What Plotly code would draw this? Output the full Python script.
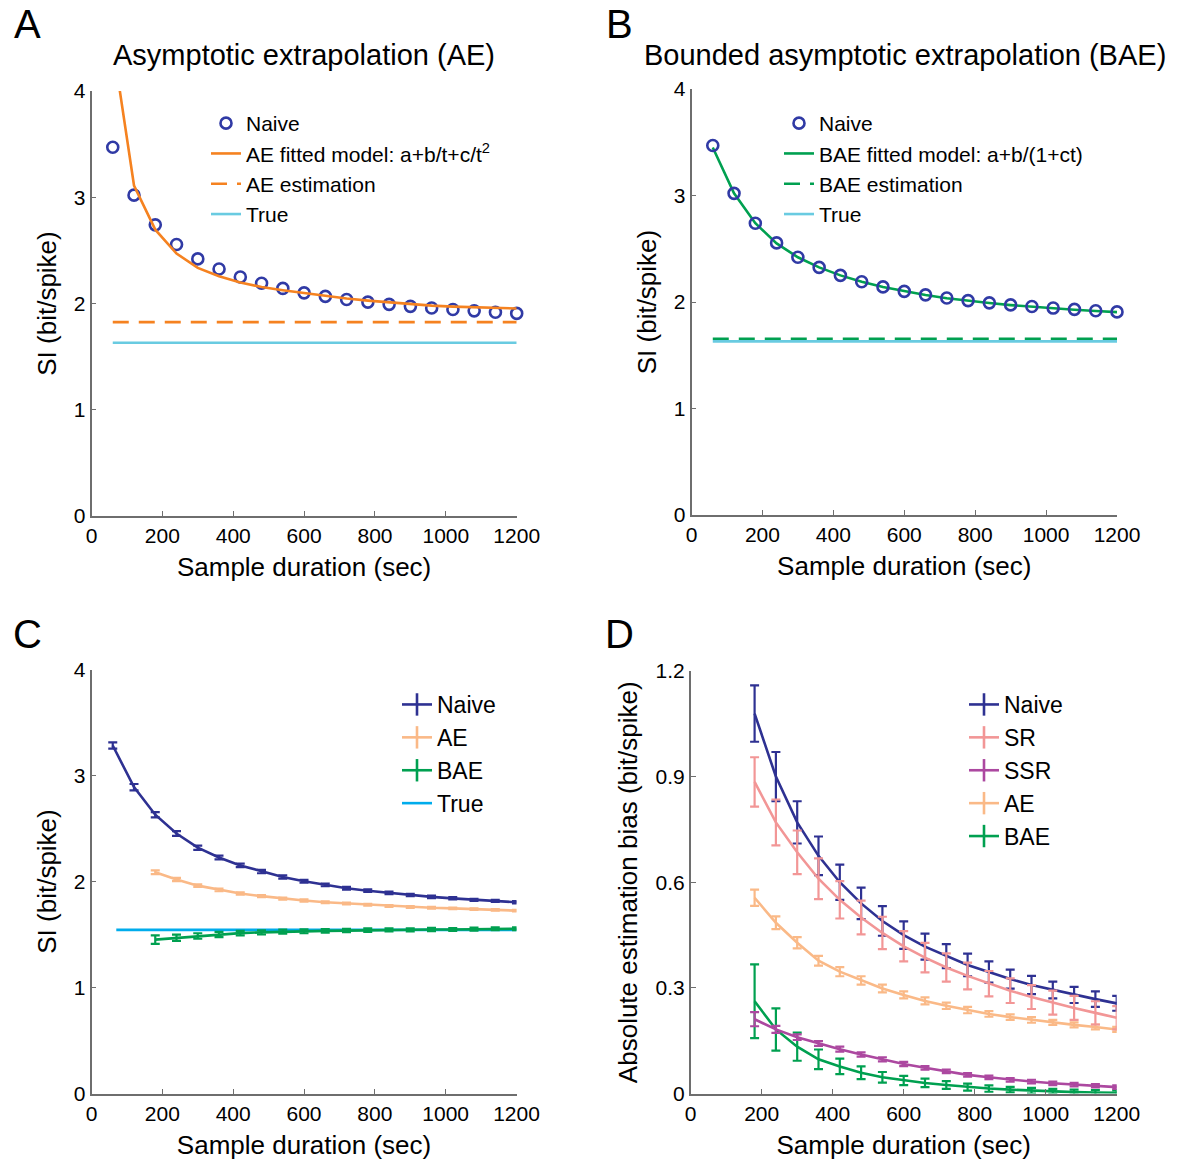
import plotly.graph_objects as go

# ---------------- data ----------------
t_all = [60, 120, 180, 240, 300, 360, 420, 480, 540, 600, 660, 720, 780, 840, 900, 960, 1020, 1080, 1140, 1200]
t_c = [180, 240, 300, 360, 420, 480, 540, 600, 660, 720, 780, 840, 900, 960, 1020, 1080, 1140, 1200]

# Panel A / B
naive_ab = [3.47, 3.02, 2.74, 2.555, 2.42, 2.325, 2.25, 2.19, 2.142, 2.10, 2.067, 2.038, 2.013, 1.992, 1.973, 1.958, 1.943, 1.931, 1.918, 1.907]
ae_fit = [4.445, 3.11, 2.695, 2.47, 2.335, 2.256, 2.198, 2.155, 2.125, 2.097, 2.07, 2.047, 2.027, 2.01, 1.994, 1.98, 1.971, 1.964, 1.958, 1.953]
bae_fit = [3.45, 3.02, 2.74, 2.55, 2.42, 2.325, 2.25, 2.19, 2.14, 2.10, 2.066, 2.036, 2.011, 1.99, 1.971, 1.955, 1.94, 1.927, 1.915, 1.905]
ae_est = 1.825
bae_est = 1.655
true_si = 1.63
t_line = [60, 1200]

# Panel C
naive_c = [3.283, 2.89, 2.63, 2.453, 2.319, 2.227, 2.152, 2.094, 2.043, 2.002, 1.968, 1.937, 1.913, 1.892, 1.872, 1.855, 1.841, 1.827, 1.817, 1.804]
naive_c_err = [0.03, 0.03, 0.025, 0.022, 0.02, 0.018, 0.017, 0.016, 0.015, 0.014, 0.013, 0.013, 0.012, 0.012, 0.011, 0.011, 0.011, 0.01, 0.01, 0.01]
ae_c = [2.087, 2.019, 1.961, 1.92, 1.886, 1.862, 1.838, 1.821, 1.804, 1.793, 1.78, 1.769, 1.759, 1.752, 1.746, 1.739, 1.732, 1.725]
ae_c_err = [0.018, 0.015, 0.013, 0.012, 0.011, 0.01, 0.01, 0.01, 0.009, 0.009, 0.009, 0.009, 0.008, 0.008, 0.008, 0.008, 0.008, 0.008]
bae_c = [1.452, 1.469, 1.486, 1.50, 1.513, 1.52, 1.527, 1.53, 1.534, 1.537, 1.541, 1.544, 1.544, 1.547, 1.547, 1.551, 1.554, 1.554]
bae_c_err = [0.04, 0.03, 0.026, 0.024, 0.022, 0.02, 0.019, 0.018, 0.017, 0.016, 0.016, 0.015, 0.015, 0.015, 0.014, 0.014, 0.014, 0.014]
true_c = 1.544
t_true_c = [70, 1200]

# Panel D
naive_d = [1.079, 0.90, 0.77, 0.675, 0.60, 0.54, 0.49, 0.45, 0.417, 0.39, 0.365, 0.345, 0.325, 0.308, 0.294, 0.28, 0.268, 0.256]
naive_d_err = [0.08, 0.07, 0.06, 0.055, 0.05, 0.045, 0.042, 0.039, 0.037, 0.034, 0.032, 0.03, 0.027, 0.026, 0.024, 0.023, 0.022, 0.021]
sr_d = [0.885, 0.77, 0.685, 0.61, 0.55, 0.50, 0.456, 0.418, 0.386, 0.358, 0.334, 0.312, 0.292, 0.274, 0.258, 0.243, 0.229, 0.215]
sr_d_err = [0.07, 0.065, 0.062, 0.058, 0.053, 0.048, 0.046, 0.043, 0.042, 0.04, 0.038, 0.036, 0.035, 0.034, 0.034, 0.034, 0.033, 0.033]
ssr_d = [0.211, 0.182, 0.16, 0.142, 0.126, 0.111, 0.097, 0.084, 0.073, 0.063, 0.053, 0.046, 0.039, 0.034, 0.029, 0.025, 0.022, 0.018]
ssr_d_err = [0.02, 0.01, 0.008, 0.007, 0.007, 0.006, 0.006, 0.006, 0.005, 0.005, 0.005, 0.005, 0.005, 0.005, 0.005, 0.005, 0.005, 0.005]
ae_d = [0.556, 0.485, 0.428, 0.377, 0.346, 0.321, 0.298, 0.28, 0.263, 0.249, 0.237, 0.226, 0.217, 0.209, 0.202, 0.195, 0.189, 0.182]
ae_d_err = [0.023, 0.018, 0.016, 0.014, 0.013, 0.012, 0.011, 0.01, 0.01, 0.009, 0.009, 0.008, 0.008, 0.008, 0.007, 0.007, 0.007, 0.007]
bae_d = [0.262, 0.182, 0.133, 0.097, 0.077, 0.059, 0.046, 0.037, 0.03, 0.024, 0.018, 0.014, 0.011, 0.008, 0.006, 0.004, 0.003, 0.002]
bae_d_err = [0.105, 0.06, 0.04, 0.028, 0.022, 0.018, 0.015, 0.013, 0.012, 0.011, 0.01, 0.009, 0.008, 0.008, 0.007, 0.007, 0.007, 0.007]

x_ticks = [0, 200, 400, 600, 800, 1000, 1200]
si_ticks = [0, 1, 2, 3, 4]
bias_ticks = [0, 0.3, 0.6, 0.9, 1.2]

# ---------------- style ----------------
FONT = "Arial, Liberation Sans, sans-serif"
NAVY = "rgb(46,49,146)"
CIRCLE = "rgb(48,58,165)"
ORANGE = "rgb(245,130,32)"
TRUE_LIGHT = "rgb(105,203,225)"
GREEN = "rgb(0,160,80)"
TRUE_C = "rgb(0,172,236)"
AE_LIGHT = "rgb(250,185,135)"
SR_PINK = "rgb(242,150,150)"
SSR_MAG = "rgb(172,72,160)"

W, H = 1184, 1169


def px_x(p):
    return p / W


def px_y(p):
    return 1 - p / H


fig = go.Figure()

# ---- Panel A ----
fig.add_trace(go.Scatter(x=t_all, y=naive_ab, mode="markers", name="Naive",
                         marker=dict(symbol="circle-open", size=11, color=CIRCLE, line=dict(width=2.6, color=CIRCLE)),
                         cliponaxis=False, xaxis="x", yaxis="y", legend="legend", legendrank=1))
fig.add_trace(go.Scatter(x=t_all, y=ae_fit, mode="lines", name="AE fitted model: a+b/t+c/t<sup>2</sup>",
                         line=dict(color=ORANGE, width=2.6), xaxis="x", yaxis="y", legend="legend", legendrank=2))
fig.add_trace(go.Scatter(x=t_line, y=[ae_est, ae_est], mode="lines", name="AE estimation",
                         line=dict(color=ORANGE, width=2.6, dash="16px,10px"), xaxis="x", yaxis="y",
                         legend="legend", legendrank=3))
fig.add_trace(go.Scatter(x=t_line, y=[true_si, true_si], mode="lines", name="True",
                         line=dict(color=TRUE_LIGHT, width=2.6), xaxis="x", yaxis="y", legend="legend", legendrank=4))

# ---- Panel B ----
fig.add_trace(go.Scatter(x=t_line, y=[true_si, true_si], mode="lines", name="True",
                         line=dict(color=TRUE_LIGHT, width=2.6), xaxis="x2", yaxis="y2", legend="legend2",
                         legendrank=4))
fig.add_trace(go.Scatter(x=t_line, y=[bae_est, bae_est], mode="lines", name="BAE estimation",
                         line=dict(color=GREEN, width=2.6, dash="16px,10px"), xaxis="x2", yaxis="y2",
                         legend="legend2", legendrank=3))
fig.add_trace(go.Scatter(x=t_all, y=bae_fit, mode="lines", name="BAE fitted model: a+b/(1+ct)",
                         line=dict(color=GREEN, width=2.6), xaxis="x2", yaxis="y2", legend="legend2", legendrank=2))
fig.add_trace(go.Scatter(x=t_all, y=naive_ab, mode="markers", name="Naive",
                         marker=dict(symbol="circle-open", size=11, color=CIRCLE, line=dict(width=2.6, color=CIRCLE)),
                         cliponaxis=False, xaxis="x2", yaxis="y2", legend="legend2", legendrank=1))


def err_series(x, y, err, color, name, xa, ya, lw=2.6):
    fig.add_trace(go.Scatter(x=x, y=y, mode="lines", name=name, showlegend=False,
                             line=dict(color=color, width=lw),
                             error_y=dict(type="data", array=err, color=color, thickness=2.2, width=4.5),
                             cliponaxis=False, xaxis=xa, yaxis=ya))


def legend_entry(color, name, xa, ya, lg, with_bar=True, lw=2.6):
    # empty trace that only provides the legend key (line with a vertical error-bar tick)
    if with_bar:
        fig.add_trace(go.Scatter(x=[None], y=[None], mode="lines+markers", name=name,
                                 line=dict(color=color, width=lw),
                                 marker=dict(symbol="line-ns", size=16, color=color, line=dict(width=2.6, color=color)),
                                 xaxis=xa, yaxis=ya, legend=lg))
    else:
        fig.add_trace(go.Scatter(x=[None], y=[None], mode="lines", name=name,
                                 line=dict(color=color, width=lw), xaxis=xa, yaxis=ya, legend=lg))


# ---- Panel C ----
fig.add_trace(go.Scatter(x=t_true_c, y=[true_c, true_c], mode="lines", name="True", showlegend=False,
                         line=dict(color=TRUE_C, width=2.6), xaxis="x3", yaxis="y3"))
err_series(t_all, naive_c, naive_c_err, NAVY, "Naive", "x3", "y3")
err_series(t_c, ae_c, ae_c_err, AE_LIGHT, "AE", "x3", "y3")
err_series(t_c, bae_c, bae_c_err, GREEN, "BAE", "x3", "y3")
legend_entry(NAVY, "Naive", "x3", "y3", "legend3")
legend_entry(AE_LIGHT, "AE", "x3", "y3", "legend3")
legend_entry(GREEN, "BAE", "x3", "y3", "legend3")
legend_entry(TRUE_C, "True", "x3", "y3", "legend3", with_bar=False)

# ---- Panel D ----
err_series(t_c, bae_d, bae_d_err, GREEN, "BAE", "x4", "y4")
err_series(t_c, ssr_d, ssr_d_err, SSR_MAG, "SSR", "x4", "y4")
err_series(t_c, ae_d, ae_d_err, AE_LIGHT, "AE", "x4", "y4")
err_series(t_c, naive_d, naive_d_err, NAVY, "Naive", "x4", "y4")
err_series(t_c, sr_d, sr_d_err, SR_PINK, "SR", "x4", "y4")
legend_entry(NAVY, "Naive", "x4", "y4", "legend4")
legend_entry(SR_PINK, "SR", "x4", "y4", "legend4")
legend_entry(SSR_MAG, "SSR", "x4", "y4", "legend4")
legend_entry(AE_LIGHT, "AE", "x4", "y4", "legend4")
legend_entry(GREEN, "BAE", "x4", "y4", "legend4")

# ---------------- axes ----------------
axis_common = dict(showline=True, linecolor="rgb(110,110,110)", linewidth=1.6, ticks="inside", ticklen=5,
                   tickwidth=1.4, tickcolor="rgb(110,110,110)", showgrid=False, zeroline=False, mirror=False,
                   tickfont=dict(family=FONT, size=21, color="black"),
                   title_font=dict(family=FONT, size=26, color="black"))


def xax(domain, anchor):
    return dict(axis_common, domain=domain, anchor=anchor, range=[0, 1200], tickvals=x_ticks,
                title=dict(text="Sample duration (sec)", standoff=12))


def yax(domain, anchor, rng, tv, title, standoff=10):
    return dict(axis_common, domain=domain, anchor=anchor, range=rng, tickvals=tv,
                title=dict(text=title, standoff=standoff))


leg_common = dict(xanchor="left", yanchor="top", bgcolor="rgba(0,0,0,0)", tracegroupgap=0)

fig.update_layout(
    width=W, height=H, margin=dict(l=0, r=0, t=0, b=0, autoexpand=False),
    paper_bgcolor="white", plot_bgcolor="white",
    font=dict(family=FONT, color="black"),
    xaxis=xax([px_x(91.5), px_x(516.7)], "y"),
    yaxis=yax([px_y(516), px_y(91)], "x", [0, 4], si_ticks, "SI (bit/spike)"),
    xaxis2=xax([px_x(691.5), px_x(1117)], "y2"),
    yaxis2=yax([px_y(515), px_y(89)], "x2", [0, 4], si_ticks, "SI (bit/spike)"),
    xaxis3=xax([px_x(91.5), px_x(516.5)], "y3"),
    yaxis3=yax([px_y(1093.5), px_y(669.5)], "x3", [0, 4], si_ticks, "SI (bit/spike)"),
    xaxis4=xax([px_x(690.7), px_x(1116.7)], "y4"),
    yaxis4=yax([px_y(1093.5), px_y(671)], "x4", [0, 1.2], bias_ticks, "Absolute estimation bias (bit/spike)"),
    legend=dict(leg_common, x=px_x(206), y=px_y(103), font=dict(family=FONT, size=21, color="black")),
    legend2=dict(leg_common, x=px_x(779), y=px_y(103), font=dict(family=FONT, size=21, color="black")),
    legend3=dict(leg_common, x=px_x(397), y=px_y(683), font=dict(family=FONT, size=23, color="black")),
    legend4=dict(leg_common, x=px_x(964), y=px_y(683), font=dict(family=FONT, size=23, color="black")),
    showlegend=True,
)

# titles and panel letters
annots = [
    dict(text="Asymptotic extrapolation (AE)", x=px_x(303.5), y=px_y(55), size=29),
    dict(text="Bounded asymptotic extrapolation (BAE)", x=px_x(904.5), y=px_y(55), size=29),
    dict(text="A", x=px_x(27), y=px_y(24), size=40),
    dict(text="B", x=px_x(619), y=px_y(24), size=40),
    dict(text="C", x=px_x(27), y=px_y(634), size=40),
    dict(text="D", x=px_x(619), y=px_y(634), size=40),
]
for a in annots:
    fig.add_annotation(text=a["text"], x=a["x"], y=a["y"], xref="paper", yref="paper", xanchor="center",
                       yanchor="middle", showarrow=False, font=dict(family=FONT, size=a["size"], color="black"))

fig.write_html("out.html")
